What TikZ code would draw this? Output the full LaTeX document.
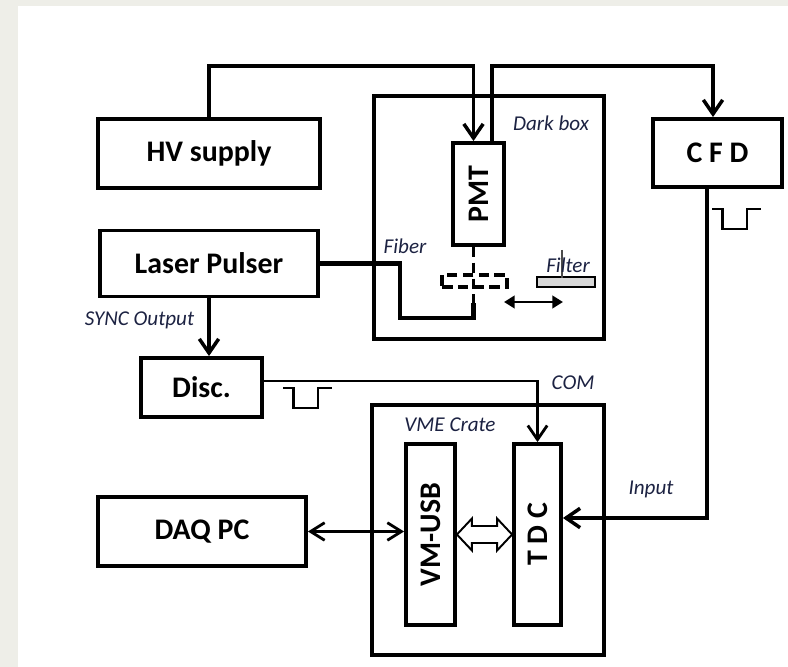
\documentclass[tikz,border=0pt]{standalone}
\usepackage{graphicx}
\usepackage{fontspec}
\setmainfont{Carlito}
\definecolor{bgpaper}{RGB}{238,238,232}
\definecolor{lbltext}{RGB}{28,34,66}
\definecolor{filtergray}{RGB}{215,215,215}
\usetikzlibrary{arrows.meta,calc}

\begin{document}
\begin{tikzpicture}[
  unit/.style={draw, line width=2.2pt, fill=white, inner sep=0pt, font=\fontsize{17}{20}\selectfont\bfseries},
  encl/.style={draw, line width=2.2pt, fill=white, inner sep=0pt},
  note/.style={font=\fontsize{12}{14}\selectfont\itshape, text=lbltext},
  wire/.style={line width=2pt},
  sig/.style={line width=1.6pt},
  fiber/.style={line width=2.6pt},
  headin/.style={-{Straight Barb[length=8pt,width=11pt]}},
  headboth/.style={{Straight Barb[length=8pt,width=10pt]}-{Straight Barb[length=8pt,width=10pt]}},
  negpulse/.pic={\draw[line width=1.2pt] (0,0) -- (0.21,0) -- (0.21,-0.40) -- (0.70,-0.40) -- (0.70,0) -- (0.97,0);}
]
  %% Paper
  \fill[bgpaper] (0,0) rectangle (15.76,13.34);
  \fill[white] (0.36,0) rectangle (15.76,13.22);

  %% Enclosures
  \node[encl, minimum width=4.60cm, minimum height=4.86cm] (darkbox) at (9.78,8.99) {};
  \node[encl, minimum width=4.64cm, minimum height=5.00cm] (vme) at (9.76,2.74) {};

  %% Units
  \node[unit, minimum width=4.44cm, minimum height=1.38cm] (hv) at (4.18,10.27) {HV supply};
  \node[unit, minimum width=4.36cm, minimum height=1.32cm] (laser) at (4.18,8.07) {Laser Pulser};
  \node[unit, minimum width=2.42cm, minimum height=1.18cm] (disc) at (4.03,5.59) {Disc.};
  \node[unit, minimum width=4.16cm, minimum height=1.38cm] (daq) at (4.04,2.71) {DAQ PC};
  \node[unit, minimum width=2.58cm, minimum height=1.36cm] (cfd) at (14.35,10.28) {C F D};
  \node[unit, minimum width=1.02cm, minimum height=2.04cm] (pmt) at (9.57,9.46) {\rotatebox{90}{PMT}};
  \node[unit, minimum width=0.98cm, minimum height=3.62cm] (vmusb) at (8.61,2.65) {\rotatebox{90}{VM-USB}};
  \node[unit, minimum width=0.94cm, minimum height=3.62cm] (tdc) at (10.75,2.65) {\rotatebox{90}{T D C}};

  %% Optics inside the dark box
  \coordinate (fibend) at (9.47,7.28);
  \draw[wire, dash pattern=on 6pt off 3pt] ([xshift=-0.10cm]pmt.south) -- (fibend);
  \node[draw, line width=2pt, dash pattern=on 6pt off 3pt, minimum width=1.30cm, minimum height=0.24cm, inner sep=0pt] (lens) at (9.49,7.72) {};
  \node[draw, line width=1.4pt, fill=filtergray, minimum width=1.16cm, minimum height=0.20cm, inner sep=0pt] (filter) at (11.32,7.70) {};
  \draw[line width=0.6pt, black!70] (11.24,8.34) -- (11.24,7.78);
  \coordinate (movL) at (10.08,7.30);
  \coordinate (movR) at (11.26,7.30);
  \draw[sig, {Triangle[length=6pt,width=7pt]}-{Triangle[length=6pt,width=7pt]}] (movL) -- (movR);

  %% Labels
  \node[note] (darklbl) at (11.02,10.88) {Dark box};
  \node[note] (fiberlbl) at (8.10,8.42) {Fiber};
  \node[note] (filterlbl) at (11.36,8.04) {Filter};
  \node[note] (synclbl) at (2.79,6.94) {SYNC Output};
  \node[note] (comlbl) at (11.46,5.69) {COM};
  \node[note] (vmelbl) at (9.00,4.84) {VME Crate};
  \node[note] (inputlbl) at (13.02,3.56) {Input};

  %% Connections
  \draw[wire, headin] (hv.north) -- ++(0,1.02) -| ([xshift=-0.10cm]pmt.north);
  \draw[wire, headin] ([xshift=0.27cm]pmt.north) -- ++(0,1.50) -| ([xshift=-0.09cm]cfd.north);
  \draw[fiber] (laser.east) -| (8.00,6.98) -| (fibend);
  \draw[wire, headin] (laser.south) -- (laser.south |- disc.north);
  \draw[sig, headin] ([yshift=0.13cm]disc.east) -| (tdc.north);
  \draw[wire, headin] ([xshift=-0.21cm]cfd.south) |- ([yshift=0.33cm]tdc.east);
  \draw[sig, headboth] (daq.east) -- (daq.east -| vmusb.west);
  \draw[line width=1.1pt, fill=white] (vmusb.east) -- ++(0.30,0.32) -- ++(0,-0.15)
    -- ($(tdc.west)+(-0.30,0.17)$) -- ++(0,0.15) -- (tdc.west) -- ++(-0.30,-0.32) -- ++(0,0.15)
    -- ($(vmusb.east)+(0.30,-0.17)$) -- ++(0,-0.15) -- cycle;

  %% Pulse shapes
  \pic at (5.66,5.58) {negpulse};
  \pic at (14.24,9.16) {negpulse};
\end{tikzpicture}
\end{document}
